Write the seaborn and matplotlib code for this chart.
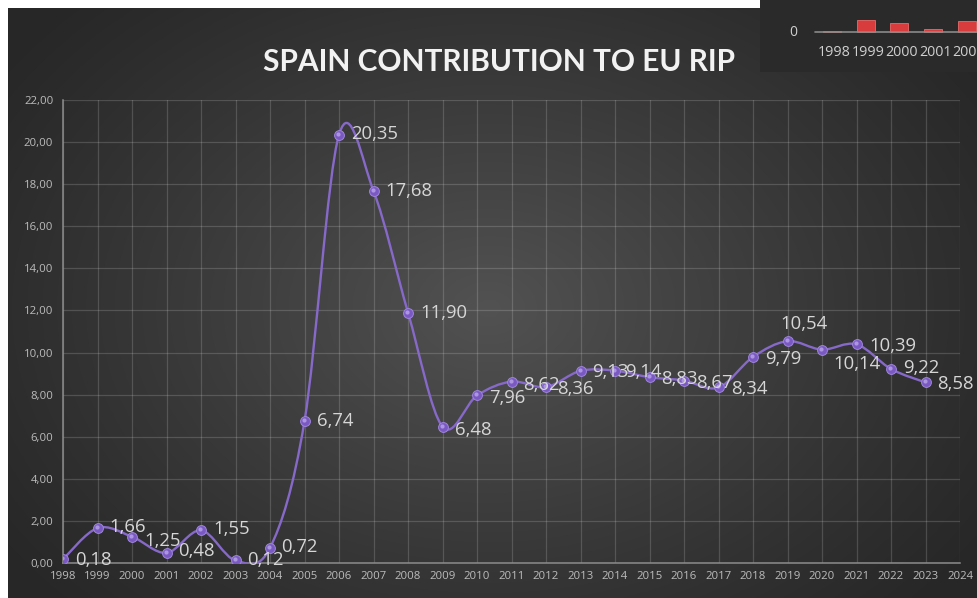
import numpy as np
import pandas as pd
import matplotlib
matplotlib.use("Agg")
import matplotlib.pyplot as plt
import seaborn as sns
from matplotlib.path import Path
from matplotlib.patches import PathPatch
from matplotlib.transforms import offset_copy

# ---------------- data ----------------
title = "SPAIN CONTRIBUTION TO EU RIP"
years = list(range(1998, 2024))
values = [0.18, 1.66, 1.25, 0.48, 1.55, 0.12, 0.72, 6.74, 20.35, 17.68, 11.90, 6.48,
          7.96, 8.62, 8.36, 9.13, 9.14, 8.83, 8.67, 8.34, 9.79, 10.54, 10.14, 10.39,
          9.22, 8.58]
tick_years = list(range(1998, 2025))
y_ticks = [0, 2, 4, 6, 8, 10, 12, 14, 16, 18, 20, 22]
inset_years = ["1998", "1999", "2000", "2001", "2002"]
inset_values = [0.18, 1.66, 1.25, 0.48, 1.55]

# label offsets in pixels (dx, dy), dy up
label_offsets = {
    1998: (12, -1), 1999: (12, 1), 2000: (12, -4), 2001: (12, 2), 2002: (12, 1),
    2003: (12, 0), 2004: (11, 1), 2005: (12, 0), 2006: (12, 1), 2007: (12, 0),
    2008: (12, 0), 2009: (12, -3), 2010: (12, -3), 2011: (12, -3), 2012: (11, -2),
    2013: (12, -1), 2014: (10, -1), 2015: (12, -2), 2016: (12, -2), 2017: (13, -2),
    2018: (12, -2), 2019: (16, 17), 2020: (11, -14), 2021: (13, -2), 2022: (12, 1),
    2023: (12, -2),
}

df = pd.DataFrame({"year": years, "value": values})

sns.set_theme(style="dark")
plt.rcParams["font.family"] = ["Open Sans", "DejaVu Sans"]

W, H, DPI = 978, 598, 100
fig = plt.figure(figsize=(W / DPI, H / DPI), dpi=DPI)
fig.patch.set_facecolor("white")

# ---------- background radial gradient ----------
bg = fig.add_axes([8 / W, 0, (W - 8) / W, (H - 8) / H], zorder=-10)
gw, gh = W - 8, H - 8
yy, xx = np.mgrid[0:gh, 0:gw]
cx, cy = 480, 300
r = np.sqrt(((xx - cx) / 600.0) ** 2 + ((yy - cy) / 440.0) ** 2)
r = np.clip(r, 0, 1)
c_center = np.array([0x52, 0x52, 0x52]) / 255.0
c_edge = np.array([0x27, 0x27, 0x27]) / 255.0
t = (1 - r) ** 1.15
img = c_edge[None, None, :] + (c_center - c_edge)[None, None, :] * t[..., None]
bg.imshow(img, aspect="auto", extent=[0, 1, 0, 1], origin="upper")
bg.set_axis_off()

# ---------- main axes ----------
x0, x1 = 63, 960
y0, y1 = 563, 100
ax = fig.add_axes([x0 / W, (H - y0) / H, (x1 - x0) / W, (y0 - y1) / H])
ax.set_facecolor("none")
ax.set_xlim(1998, 2024)
ax.set_ylim(0, 22)

ax.set_xticks(tick_years)
ax.set_xticklabels([str(y) for y in tick_years])
ax.set_yticks(y_ticks)
ax.set_yticklabels([f"{v:.2f}".replace(".", ",") for v in y_ticks])
ax.tick_params(axis="both", length=0, colors="#bcbcbc", labelsize=8.2)
ax.tick_params(axis="x", pad=6)
ax.tick_params(axis="y", pad=7)
ax.grid(True, color="#ffffff", alpha=0.16, linewidth=0.9)
for s in ["top", "right"]:
    ax.spines[s].set_visible(False)
for s in ["left", "bottom"]:
    ax.spines[s].set_visible(True)
    ax.spines[s].set_color("#8c8c8c")
    ax.spines[s].set_linewidth(1.1)

# smoothed line (Catmull-Rom bezier, like Excel smoothing)
P = np.column_stack([df["year"].to_numpy(float), df["value"].to_numpy(float)])
n = len(P)
verts = [tuple(P[0])]
codes = [Path.MOVETO]
for i in range(n - 1):
    pm = P[i - 1] if i > 0 else P[i]
    p0 = P[i]
    p1 = P[i + 1]
    p2 = P[i + 2] if i + 2 < n else P[i + 1]
    c1 = p0 + (p1 - pm) / 6.0
    c2 = p1 - (p2 - p0) / 6.0
    verts += [tuple(c1), tuple(c2), tuple(p1)]
    codes += [Path.CURVE4] * 3
ax.add_patch(PathPatch(Path(verts, codes), facecolor="none", edgecolor="#8769c9",
                       linewidth=1.7, zorder=3))

sns.scatterplot(data=df, x="year", y="value", ax=ax, s=50, color="#7a5ac2",
                edgecolor="#9f85dc", linewidth=0.7, zorder=4, legend=False)
# highlight for sphere look
hl = offset_copy(ax.transData, fig=fig, x=-1.0, y=1.0, units="dots")
ax.scatter(df["year"], df["value"], s=9, color="#c4b0ee", alpha=0.7,
           transform=hl, zorder=5, linewidths=0)
ax.set_xlabel("")
ax.set_ylabel("")

for yr, v in zip(years, values):
    dx, dy = label_offsets[yr]
    ha = "center" if yr == 2019 else "left"
    ax.annotate(f"{v:.2f}".replace(".", ","), (yr, v),
                xytext=(dx * 0.72, dy * 0.72), textcoords="offset points",
                ha=ha, va="center", fontsize=13.3, color="#d6d6d6", zorder=6)

# title
fig.text(499 / W, (H - 62) / H, title, ha="center", va="center",
         fontsize=21.5, fontweight="bold", color="#f2f2f2",
         family=["Lato", "DejaVu Sans"])

# ---------- inset (cropped bar chart overlay) ----------
ia = fig.add_axes([760 / W, (H - 72) / H, (W - 760) / W, 72 / H], zorder=20)
ia.set_facecolor("#2a2a2a")
idf = pd.DataFrame({"year": inset_years, "value": inset_values})
sns.barplot(data=idf, x="year", y="value", ax=ia, color="#d83c3c",
            width=0.53, edgecolor="#e86a6a", linewidth=0.6, saturation=1)
px_per_cat = 33.7
left = -(832 - 760) / px_per_cat
ia.set_xlim(left, left + (W - 760) / px_per_cat)
ppu = 7.2
ia.set_ylim(-40 / ppu, 32 / ppu)
ia.axhline(0, xmin=(815 - 760) / (W - 760), xmax=1, color="#8a8a8a", lw=1.2)
ia.set_xticks([])
ia.set_yticks([])
ia.set_xlabel("")
ia.set_ylabel("")
for s in ia.spines.values():
    s.set_visible(False)
ia.text((793 - 760) / (W - 760), 40 / 72, "0", transform=ia.transAxes,
        ha="center", va="center", fontsize=10, color="#d0d0d0")
for i, lab in enumerate(inset_years):
    ia.text(i + 0.06, -20 / ppu, lab, ha="center", va="center", fontsize=10.3,
            color="#d0d0d0", clip_on=True)

fig.savefig("out.png", dpi=DPI, facecolor=fig.get_facecolor())
